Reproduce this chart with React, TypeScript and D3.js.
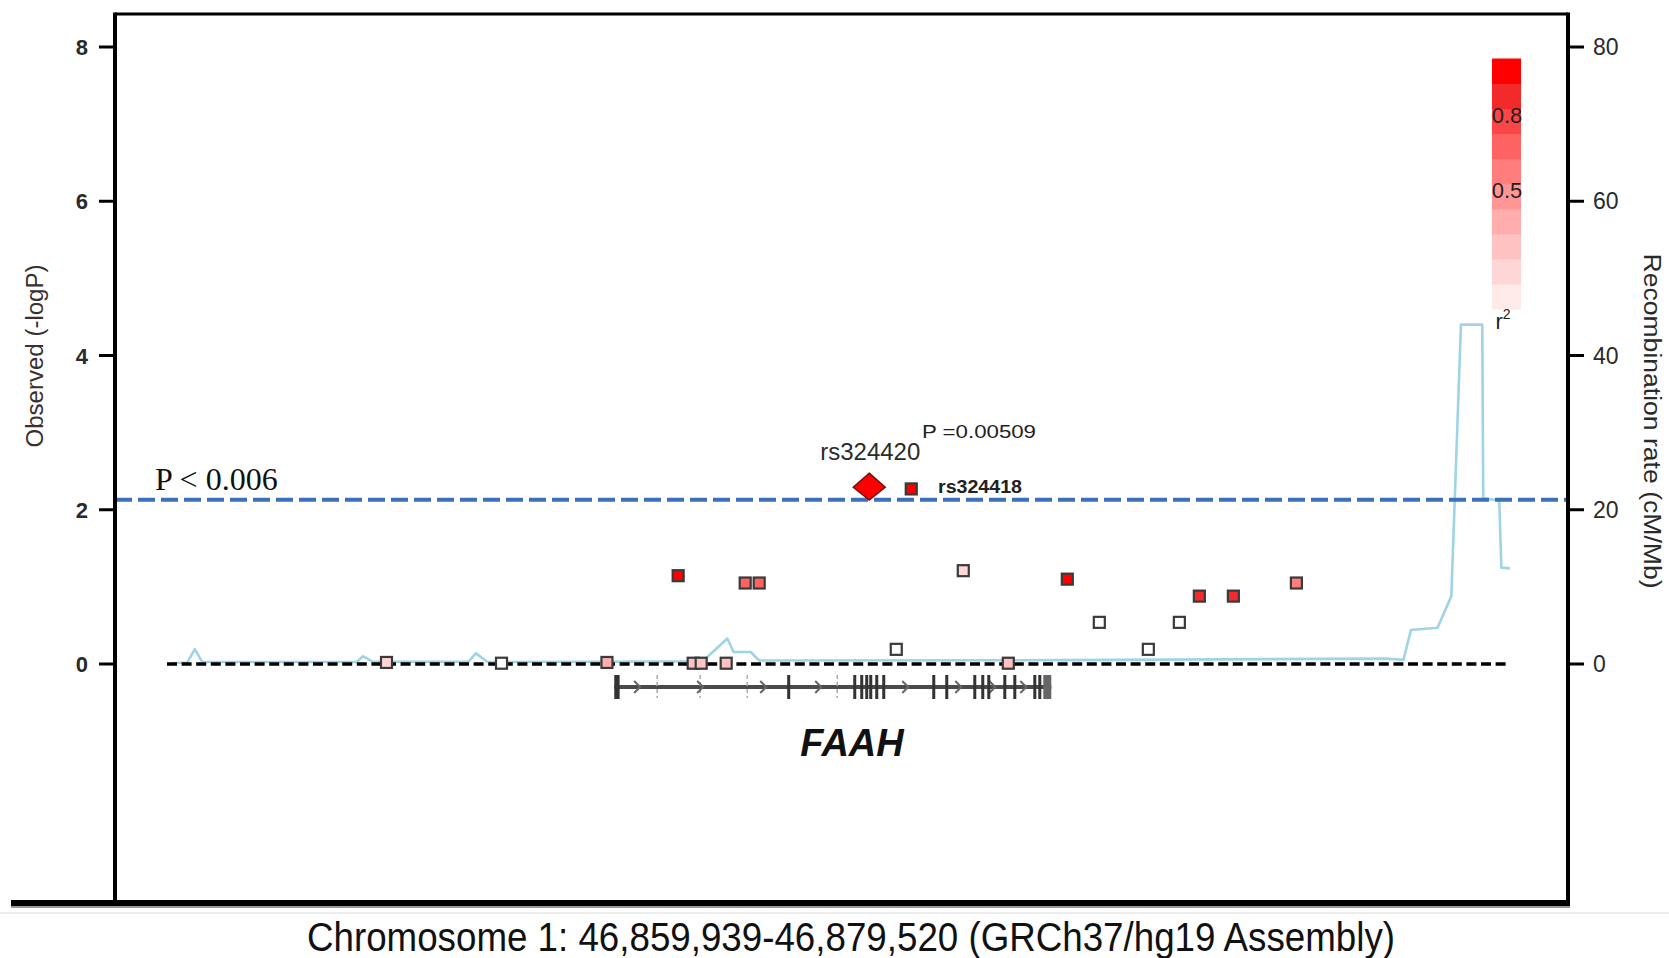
import React, { useEffect } from "react";
import * as d3 from "d3";

// ---------- data ----------
const regionStart = 46839900;
const regionEnd = 46900050;

const leftTicks = [0, 2, 4, 6, 8];
const rightTicks = [0, 20, 40, 60, 80];

const threshold = 2.13; // drawn height of the P < 0.006 line

const snpPos = [
  46849734, 46854888, 46859612, 46863475, 46863834, 46864954, 46862803, 46865806,
  46866433, 46873246, 46872574, 46875577, 46877594, 46880238, 46881672, 46883868,
  46885258, 46886154, 46887678, 46890502,
];
const snpLogP = [
  0.02, 0.01, 0.02, 0.01, 0.01, 0.01, 1.145, 1.05,
  1.05, 2.27, 0.19, 1.21, 0.01, 1.10, 0.54, 0.19,
  0.54, 0.88, 0.88, 1.05,
];
const snpR2 = [
  0.1, 0.0, 0.3, 0.25, 0.25, 0.2, 0.9, 0.6,
  0.6, 0.95, 0.0, 0.1, 0.2, 0.95, 0.0, 0.0,
  0.0, 0.85, 0.85, 0.5,
];

const leadPos = 46871364;
const leadLogP = 2.293;
const leadName = "rs324420";
const leadP = "P =0.00509";
const secondName = "rs324418";
const secondIndex = 9;

const recombPos = [
  46840048, 46840814, 46841146, 46841482, 46848398, 46848685, 46849115, 46853409,
  46853740, 46854265, 46859226, 46863906, 46865004, 46865286, 46866052, 46866433,
  46880126, 46894441, 46895298, 46895634, 46896826, 46897444, 46897875, 46898829,
  46898874, 46899591, 46899685, 46900071,
];
const recombRate = [
  0.1, 0.2, 1.93, 0.25, 0.25, 1.0, 0.3, 0.3,
  1.38, 0.25, 0.3, 0.35, 3.3, 1.56, 1.56, 0.45,
  0.5, 0.7, 0.55, 4.4, 4.7, 8.8, 44, 44,
  21.5, 21.2, 12.5, 12.4,
];

const geneName = "FAAH";
const geneStart = 46859939;
const geneEnd = 46879520;
const exonStarts = [
  46859939, 46867688, 46870647, 46870960, 46871184, 46871364, 46871633, 46871946,
  46874187, 46874770, 46876025, 46876383, 46876652, 46877370, 46877818, 46878714,
  46878938, 46879162,
];
const exonEnds = [
  46860180, 46867790, 46870740, 46871050, 46871270, 46871450, 46871720, 46872030,
  46874280, 46874860, 46876110, 46876470, 46876740, 46877460, 46877900, 46878800,
  46879020, 46879520,
];
const intronMarks = [46861862, 46863789, 46865896, 46869929];
const arrowPos = [
  46860965, 46863789, 46866613, 46869078, 46872977, 46875353, 46876877, 46878266,
];

const legendBins = [0, 0.1, 0.2, 0.3, 0.4, 0.5, 0.6, 0.7, 0.8, 0.9];
const legendColors = [
  "#ffe9e9", "#ffd6d6", "#ffc2c2", "#ffadad", "#ff9696",
  "#ff7d7d", "#ff6262", "#f94646", "#f22a2a", "#ff0000",
];
const legendLabels = [0.8, 0.5];

const xTitle = "Chromosome 1: 46,859,939-46,879,520 (GRCh37/hg19 Assembly)";
const yTitle = "Observed (-logP)";
const y2Title = "Recombination rate (cM/Mb)";
const thresholdLabel = "P < 0.006";

// ---------- layout ----------
const W = 1669;
const H = 958;
const frameL = 115;
const frameR = 1568;
const frameT = 14;
const frameB = 903;

export default function App() {
  useEffect(() => {
    document.body.style.margin = "0";
    document.body.style.overflow = "hidden";
  }, []);

  const x = d3.scaleLinear().domain([regionStart, regionEnd]).range([167, 1509.5]);
  const yL = d3.scaleLinear().domain([0, 8]).range([664, 47]);
  const yR = d3.scaleLinear().domain([0, 80]).range([664, 47]);
  const r2Scale = d3.scaleLinear().domain([0, 1]).range([309, 58.5]);

  const colorFor = (r2: number) => {
    if (r2 <= 0.0001) return "#ffffff";
    const idx = Math.min(legendBins.length - 1, Math.floor(r2 * 10 + 1e-9));
    return legendColors[idx];
  };

  const recombLine = d3
    .line<number>()
    .x((_, i) => x(recombPos[i]))
    .y((d) => yR(d));

  const geneY = 687;
  const sans = "'Liberation Sans', Arial, sans-serif";

  const snpRect = (i: number) => (
    <rect
      key={"s" + i}
      x={x(snpPos[i]) - 5.5}
      y={yL(snpLogP[i]) - 5.5}
      width={11}
      height={11}
      fill={colorFor(snpR2[i])}
      stroke="#3a3a3a"
      strokeWidth={2.2}
    />
  );

  return (
    <svg width={W} height={H} style={{ position: "absolute", left: 0, top: 0, background: "#fff" }}>
      <rect x={0} y={0} width={W} height={H} fill="#fff" />

      {/* faint separator */}
      <line x1={0} x2={W} y1={913} y2={913} stroke="#ececec" strokeWidth={2} />

      {/* recombination line */}
      <path d={recombLine(recombRate) || ""} fill="none" stroke="#9fd4e6" strokeWidth={2.6} strokeLinejoin="round" />

      {/* zero dotted line */}
      <line x1={x(regionStart)} x2={1509.5} y1={yL(0)} y2={yL(0)} stroke="#000" strokeWidth={3.5} strokeDasharray="10 4.6" />

      {/* threshold line */}
      <line x1={frameL} x2={frameR} y1={yL(threshold)} y2={yL(threshold)} stroke="#3c70b8" strokeWidth={4} strokeDasharray="17 6" />
      <text x={155} y={490} fontFamily="'Liberation Serif', 'Times New Roman', serif" fontSize={32} fill="#111">
        {thresholdLabel}
      </text>

      {/* gene track */}
      <line x1={x(geneStart)} x2={x(geneEnd)} y1={geneY} y2={geneY} stroke="#4a4a4a" strokeWidth={4} />
      {intronMarks.map((p, i) => (
        <line key={"im" + i} x1={x(p)} x2={x(p)} y1={geneY - 12} y2={geneY + 11} stroke="#aaa" strokeWidth={1.5} strokeDasharray="4 3" />
      ))}
      {arrowPos.map((p, i) => (
        <path
          key={"ar" + i}
          d={`M${x(p) - 3},${geneY - 6} L${x(p) + 3},${geneY} L${x(p) - 3},${geneY + 6}`}
          fill="none"
          stroke="#666"
          strokeWidth={2}
        />
      ))}
      {exonStarts.map((s, i) => {
        const x0 = x(s);
        const w = Math.max(3, x(exonEnds[i]) - x0);
        const last = i === exonStarts.length - 1;
        return <rect key={"ex" + i} x={x0} y={geneY - 12} width={w} height={24} fill={last ? "#666" : "#333"} />;
      })}
      <text x={852} y={756} textAnchor="middle" fontFamily={sans} fontWeight="bold" fontStyle="italic" fontSize={38} fill="#111">
        {geneName}
      </text>

      {/* SNPs */}
      {snpPos.map((_, i) => (i === secondIndex ? null : snpRect(i)))}

      {/* lead SNP */}
      <path
        d={`M${x(leadPos)},${yL(leadLogP) - 14} L${x(leadPos) + 16},${yL(leadLogP)} L${x(leadPos)},${yL(leadLogP) + 13} L${x(leadPos) - 16},${yL(leadLogP)} Z`}
        fill="#ff0000"
        stroke="#7a1010"
        strokeWidth={1.5}
      />
      {snpRect(secondIndex)}
      <text x={x(leadPos) + 1} y={460} textAnchor="middle" fontFamily={sans} fontSize={24} fill="#2b2b2b">
        {leadName}
      </text>
      <text x={922} y={438} fontFamily={sans} fontSize={19} fill="#222" textLength={114} lengthAdjust="spacingAndGlyphs">
        {leadP}
      </text>
      <text x={938} y={493} fontFamily={sans} fontWeight="bold" fontSize={18} fill="#222" textLength={84} lengthAdjust="spacingAndGlyphs">
        {secondName}
      </text>

      {/* legend */}
      {legendBins.map((b, i) => (
        <rect
          key={"lg" + i}
          x={1492}
          y={r2Scale(b + 0.1)}
          width={29}
          height={r2Scale(b) - r2Scale(b + 0.1) + 0.5}
          fill={legendColors[i]}
        />
      ))}
      {legendLabels.map((v, i) => (
        <text key={"ll" + i} x={1507} y={r2Scale(v) + 14} textAnchor="middle" fontFamily={sans} fontSize={22} fill="#222">
          {v.toFixed(1)}
        </text>
      ))}
      <text x={1503} y={329} textAnchor="middle" fontFamily={sans} fontSize={22} fill="#222">
        r<tspan dy={-10} fontSize={14}>2</tspan>
      </text>

      {/* frame */}
      <line x1={frameL} x2={frameR} y1={frameT} y2={frameT} stroke="#000" strokeWidth={3} />
      <line x1={frameL} x2={frameL} y1={frameT - 1.5} y2={frameB} stroke="#000" strokeWidth={4} />
      <line x1={frameR} x2={frameR} y1={frameT - 1.5} y2={frameB} stroke="#000" strokeWidth={4} />
      <line x1={11} x2={frameR + 2} y1={frameB + 2} y2={frameB + 2} stroke="#999" strokeWidth={6} />
      <line x1={11} x2={frameR + 2} y1={frameB} y2={frameB} stroke="#000" strokeWidth={6} />

      {/* left axis */}
      {leftTicks.map((t) => (
        <g key={"lt" + t}>
          <line x1={99} x2={frameL} y1={yL(t)} y2={yL(t)} stroke="#000" strokeWidth={3} />
          <text x={88} y={yL(t) + 8} textAnchor="end" fontFamily={sans} fontWeight="bold" fontSize={22} fill="#2a2a2a">
            {t}
          </text>
        </g>
      ))}
      <text
        transform={`translate(43,356) rotate(-90)`}
        textAnchor="middle"
        fontFamily={sans}
        fontSize={23}
        fill="#3a3030"
        textLength={183}
        lengthAdjust="spacingAndGlyphs"
      >
        {yTitle}
      </text>

      {/* right axis */}
      {rightTicks.map((t) => (
        <g key={"rt" + t}>
          <line x1={frameR} x2={1584} y1={yR(t)} y2={yR(t)} stroke="#000" strokeWidth={3} />
          <text x={1593} y={yR(t) + 8} textAnchor="start" fontFamily={sans} fontSize={23} fill="#2a2a2a">
            {t}
          </text>
        </g>
      ))}
      <text
        transform={`translate(1644,421) rotate(90)`}
        textAnchor="middle"
        fontFamily={sans}
        fontSize={23}
        fill="#2a2a2a"
        textLength={335}
        lengthAdjust="spacingAndGlyphs"
      >
        {y2Title}
      </text>

      {/* x title */}
      <text
        x={307}
        y={951}
        fontFamily="'Liberation Sans Narrow', 'Liberation Sans', Arial, sans-serif"
        fontSize={40}
        fill="#111"
        textLength={1088}
        lengthAdjust="spacingAndGlyphs"
      >
        {xTitle}
      </text>
    </svg>
  );
}
